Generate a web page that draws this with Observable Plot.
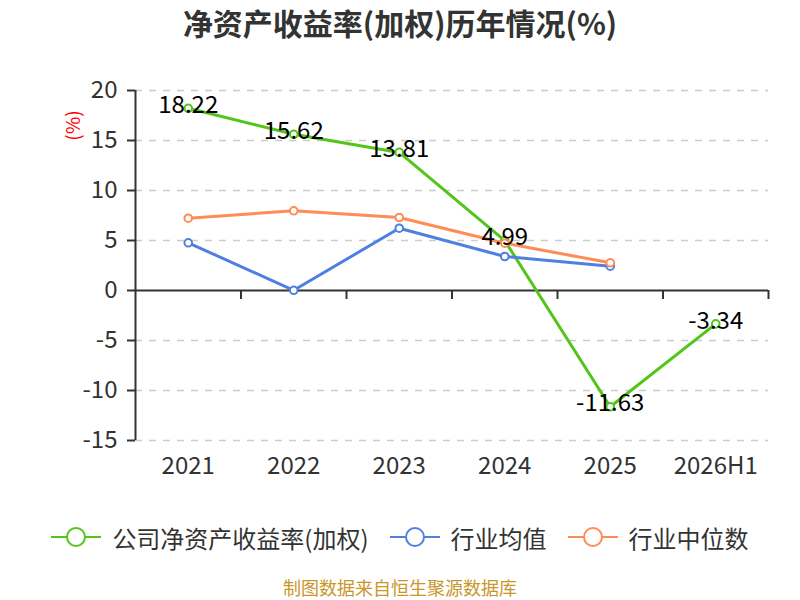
<!DOCTYPE html>
<html>
<head>
<meta charset="utf-8">
<script src="https://cdn.jsdelivr.net/npm/d3@7"></script>
<script src="https://cdn.jsdelivr.net/npm/@observablehq/plot@0.6"></script>
<style>
  html, body { margin: 0; padding: 0; background: #fff; }
  body { width: 800px; height: 600px; position: relative; overflow: hidden;
         font-family: "Noto Sans CJK SC", "Noto Sans", sans-serif; color: #333; }
  #title { position: absolute; top: 0; left: 0; width: 800px; height: 44px; line-height: 44px;
           text-align: center; font-size: 30px; font-weight: bold; color: #333; }
  #chart { position: absolute; top: 60px; left: 0; }
  #legend { position: absolute; top: 515px; left: 0; width: 800px; height: 44px;
            display: flex; justify-content: center; align-items: center; gap: 21px; }
  .item { display: flex; align-items: center; gap: 11px; font-size: 24px; color: #333; }
  #caption { position: absolute; top: 575px; left: 0; width: 800px; height: 25px; line-height: 25px;
             text-align: center; font-size: 18px; color: #c9962b; }
</style>
</head>
<body>
<div id="title">净资产收益率(加权)历年情况(%)</div>
<div id="chart"></div>
<div id="legend"></div>
<div id="caption">制图数据来自恒生聚源数据库</div>
<script>
const categories = ["2021", "2022", "2023", "2024", "2025", "2026H1"];
const roeValues = [18.22, 15.62, 13.81, 4.99, -11.63, -3.34];
const industryMean = [4.77, 0.02, 6.23, 3.40, 2.43, null];
const industryMedian = [7.23, 7.97, 7.30, 4.73, 2.77, null];
const yTicks = [-15, -10, -5, 0, 5, 10, 15, 20];
const seriesNames = ["公司净资产收益率(加权)", "行业均值", "行业中位数"];
const seriesColors = ["#52c41a", "#4f80e1", "#ff8b55"];
const seriesValues = [roeValues, industryMean, industryMedian];

const rows = [];
seriesValues.forEach((vals, s) => {
  vals.forEach((v, i) => {
    if (v != null) rows.push({series: seriesNames[s], idx: i, x: i + 0.5, value: v});
  });
});
const bounds = d3.range(1, categories.length + 1);
const gridTicks = yTicks.filter(t => t !== 0);

const marks = [
  Plot.ruleY(gridTicks, {stroke: "#cccccc", strokeWidth: 1.5, strokeDasharray: "7,7"}),
  Plot.axisY({ticks: yTicks, tickFormat: d => String(d), tickSize: 8, tickPadding: 10, fontSize: 24, stroke: "#333", strokeWidth: 2, label: null}),
  Plot.axisX({ticks: categories.map((c, i) => i + 0.5), tickFormat: d => categories[Math.round(d - 0.5)],
              tickSize: 0, tickPadding: 16, fontSize: 24, label: null}),
  Plot.ruleX([0], {y1: yTicks[0], y2: yTicks[yTicks.length - 1], stroke: "#333", strokeWidth: 2}),
  Plot.ruleY([0], {stroke: "#333", strokeWidth: 2}),
  Plot.ruleX(bounds, {y1: 0, y2: -0.9, stroke: "#333", strokeWidth: 2}),
  Plot.text(["(%)"], {frameAnchor: "top-left", dx: -62, dy: 35, rotate: -90, fill: "red", fontSize: 19,
                      textAnchor: "middle", lineAnchor: "middle"})
];
seriesNames.forEach((name, s) => {
  const d = rows.filter(r => r.series === name);
  marks.push(Plot.line(d, {x: "x", y: "value", stroke: seriesColors[s], strokeWidth: 3}));
  marks.push(Plot.dot(d, {x: "x", y: "value", r: 3.8, fill: "white", stroke: seriesColors[s], strokeWidth: 2}));
});
marks.push(Plot.text(rows.filter(r => r.series === seriesNames[0]),
  {x: "x", y: "value", text: d => d.value.toFixed(2), fill: "black", fontSize: 24, dy: -3}));

const chart = Plot.plot({
  width: 800,
  height: 420,
  marginLeft: 135,
  marginRight: 32,
  marginTop: 30,
  marginBottom: 40,
  x: {type: "linear", domain: [0, categories.length]},
  y: {domain: [yTicks[0], yTicks[yTicks.length - 1]]},
  style: {fontFamily: "'Noto Sans CJK SC', 'Noto Sans', sans-serif", fontSize: "24px", color: "#333", background: "white", overflow: "visible"},
  marks
});
document.getElementById("chart").appendChild(chart);

const legend = document.getElementById("legend");
seriesNames.forEach((name, s) => {
  const item = document.createElement("div");
  item.className = "item";
  item.innerHTML = `<svg width="50" height="22"><line x1="0" y1="11" x2="50" y2="11" stroke="${seriesColors[s]}" stroke-width="2"/><circle cx="25" cy="11" r="9" fill="white" stroke="${seriesColors[s]}" stroke-width="2"/></svg><span>${name}</span>`;
  legend.appendChild(item);
});
</script>
</body>
</html>
